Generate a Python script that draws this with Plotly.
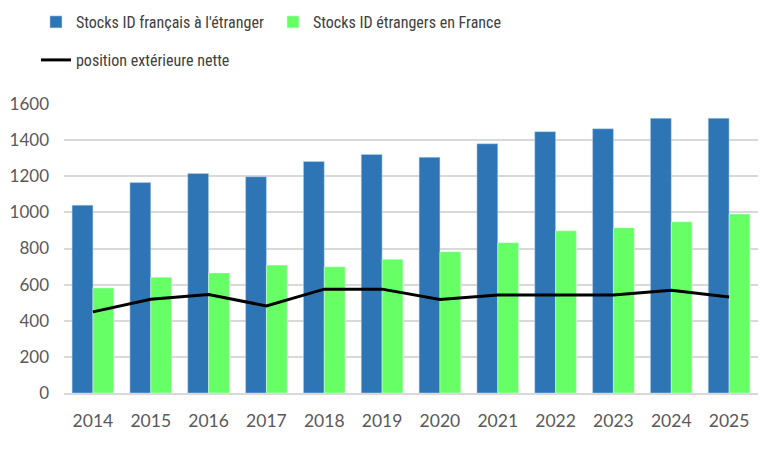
import plotly.graph_objects as go

years = ["2014", "2015", "2016", "2017", "2018", "2019", "2020", "2021", "2022", "2023", "2024", "2025"]
stocks_fr_etranger = [1040, 1165, 1215, 1197, 1282, 1321, 1305, 1380, 1447, 1463, 1521, 1521]
stocks_etr_france = [582, 641, 665, 708, 699, 741, 782, 832, 898, 915, 948, 991]
position_nette = [449, 519, 545, 482, 575, 575, 518, 543, 543, 543, 569, 532]

tick_font = "Lato, 'Open Sans', sans-serif"
legend_font = "'Liberation Sans Narrow', 'Roboto Condensed', Lato, sans-serif"

# page body has an 8px margin: figure drawn at (8, 8) inside the 768x453 window
W, H = 760, 445

fig = go.Figure()
fig.add_trace(go.Bar(x=years, y=stocks_fr_etranger, name="Stocks ID français à l'étranger",
                     marker=dict(color="#2E75B6", line=dict(color="#BDD7EE", width=0.5)),
                     legend="legend"))
fig.add_trace(go.Bar(x=years, y=stocks_etr_france, name="Stocks ID étrangers en France",
                     marker=dict(color="#66FF66", line=dict(color="#E2FFE2", width=0.5)),
                     legend="legend"))
fig.add_trace(go.Scatter(x=years, y=position_nette, name="position extérieure nette",
                         mode="lines", line=dict(color="#000000", width=3),
                         legend="legend2"))

fig.update_layout(
    width=W, height=H,
    margin=dict(l=56, r=10, t=96, b=60, autoexpand=False),
    plot_bgcolor="white", paper_bgcolor="white",
    barmode="group", bargap=0.28, bargroupgap=0,
    font=dict(family=tick_font, size=17, color="#595959"),
    legend=dict(orientation="h", xref="container", yref="container",
                x=0.0368, xanchor="left", y=1 - 14 / H, yanchor="middle",
                entrywidth=192, entrywidthmode="pixels",
                font=dict(family=legend_font, size=16, color="#404040"),
                traceorder="normal"),
    legend2=dict(orientation="h", xref="container", yref="container",
                 x=0.0368, xanchor="left", y=1 - 52 / H, yanchor="middle",
                 font=dict(family=legend_font, size=16, color="#404040")),
    showlegend=True,
)
fig.update_yaxes(range=[0, 1600], dtick=200, showgrid=True, gridcolor="#D9D9D9", gridwidth=1.5,
                 zeroline=False, showline=False, ticks="", ticklabelstandoff=14, automargin=False,
                 tickfont=dict(size=17, color="#595959"))
fig.update_xaxes(showline=True, linecolor="#D9D9D9", linewidth=1.5, ticks="", automargin=False,
                 tickfont=dict(size=17.5, color="#595959"), ticklabelstandoff=11)

fig.write_html("out.html")
